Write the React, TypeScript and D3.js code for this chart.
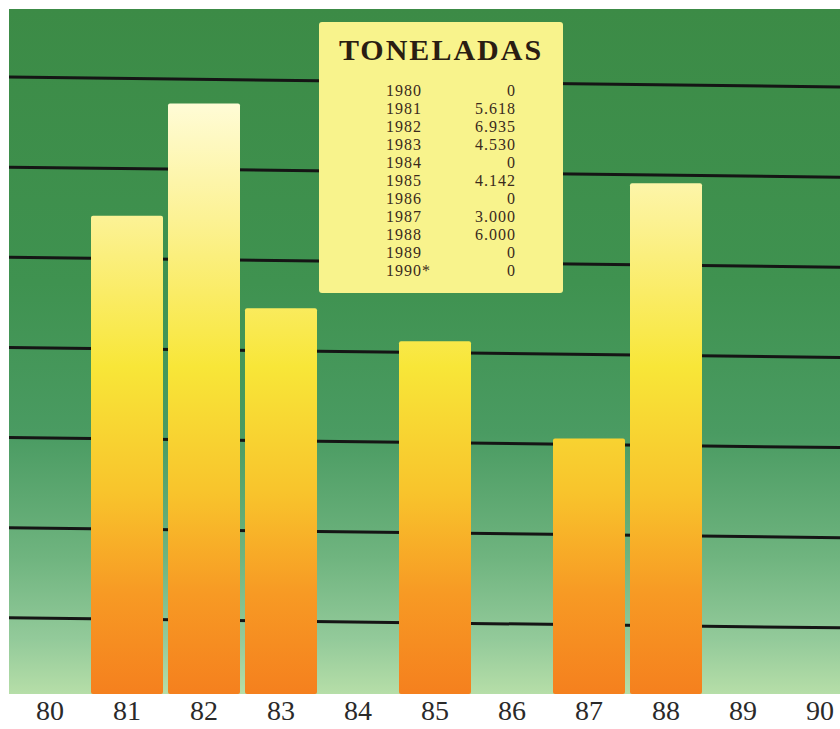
import * as d3 from 'd3'

const years = [1980, 1981, 1982, 1983, 1984, 1985, 1986, 1987, 1988, 1989, 1990]
const tonnes = [0, 5618, 6935, 4530, 0, 4142, 0, 3000, 6000, 0, 0]
const axisLabels = ['80', '81', '82', '83', '84', '85', '86', '87', '88', '89', '90']
const tableYears = ['1980', '1981', '1982', '1983', '1984', '1985', '1986', '1987', '1988', '1989', '1990*']
const gridLevels = [1, 2, 3, 4, 5, 6, 7]

const esLocale = d3.formatLocale({ decimal: ',', thousands: '.', grouping: [3], currency: ['', ''] })
const fmt = esLocale.format(',')

export default function App() {
  const width = 840
  const height = 729
  const panel = { left: 9, top: 9, right: 840, bottom: 694 }

  const x = d3.scalePoint<string>().domain(axisLabels).range([50, 820])
  const barWidth = 72
  const y = d3.scaleLinear().domain([0, 7000]).range([panel.bottom, 98])
  const gridY = d3.scaleLinear().domain([0, 7]).range([708, 77])
  const tilt = 10

  const box = { x: 319, y: 22, w: 244, h: 271 }
  const rowY = d3.scalePoint<string>().domain(tableYears).range([96, 276])

  return (
    <svg width={width} height={height} style={{ display: 'block', position: 'absolute', left: 0, top: 0 }}>
      <defs>
        <linearGradient id="bg" x1="0" y1={panel.top} x2="0" y2={panel.bottom} gradientUnits="userSpaceOnUse">
          <stop offset="0" stopColor="#3c8b46" />
          <stop offset="0.4" stopColor="#3f9250" />
          <stop offset="0.62" stopColor="#4a9b62" />
          <stop offset="0.8" stopColor="#6fb47f" />
          <stop offset="0.92" stopColor="#93ca9a" />
          <stop offset="1" stopColor="#b6dea8" />
        </linearGradient>
        <linearGradient id="bar" x1="0" y1={100} x2="0" y2={panel.bottom} gradientUnits="userSpaceOnUse">
          <stop offset="0" stopColor="#fffcd8" />
          <stop offset="0.2" stopColor="#fcf294" />
          <stop offset="0.45" stopColor="#f8e638" />
          <stop offset="0.66" stopColor="#f8c42c" />
          <stop offset="0.83" stopColor="#f79a24" />
          <stop offset="1" stopColor="#f5801e" />
        </linearGradient>
      </defs>

      <rect x={0} y={0} width={width} height={height} fill="#ffffff" />
      <rect
        x={panel.left}
        y={panel.top}
        width={panel.right - panel.left}
        height={panel.bottom - panel.top}
        fill="url(#bg)"
      />

      {gridLevels.map((level) => (
        <line
          key={level}
          x1={panel.left}
          x2={panel.right}
          y1={gridY(level)}
          y2={gridY(level) + tilt}
          stroke="#151515"
          strokeWidth="3"
        />
      ))}

      {tonnes.map((value, i) =>
        value > 0 ? (
          <rect
            key={years[i]}
            x={(x(axisLabels[i]) ?? 0) - barWidth / 2}
            y={y(value)}
            width={barWidth}
            height={y(0) - y(value)}
            rx="2"
            fill="url(#bar)"
          />
        ) : null,
      )}

      <rect x={box.x} y={box.y} width={box.w} height={box.h} rx="3" fill="#f8f38c" />
      <text
        x={box.x + box.w / 2}
        y={60}
        textAnchor="middle"
        fontFamily="'Liberation Serif', 'DejaVu Serif', serif"
        fontWeight="bold"
        fontSize="30"
        letterSpacing="2"
        fill="#2a1d12"
      >
        TONELADAS
      </text>
      {tableYears.map((label, i) => (
        <g key={label} fontFamily="'Liberation Serif', 'DejaVu Serif', serif" fontSize="16" fill="#3a2a1c">
          <text x={386} y={rowY(label)} letterSpacing="1">
            {label}
          </text>
          <text x={516} y={rowY(label)} textAnchor="end" letterSpacing="1">
            {fmt(tonnes[i])}
          </text>
        </g>
      ))}

      {axisLabels.map((label) => (
        <text
          key={label}
          x={x(label)}
          y={720}
          textAnchor="middle"
          fontFamily="'Liberation Serif', 'DejaVu Serif', serif"
          fontSize="28"
          fill="#2a2a2a"
        >
          {label}
        </text>
      ))}
    </svg>
  )
}
